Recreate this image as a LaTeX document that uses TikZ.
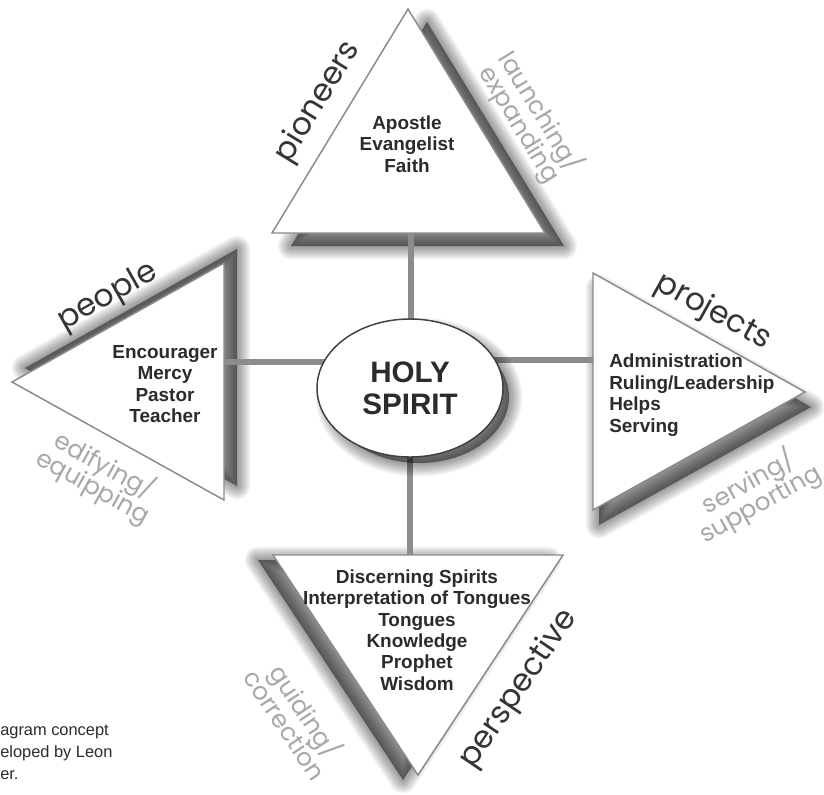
\documentclass[tikz,border=0pt]{standalone}
\usepackage{fontspec}
\setmainfont{Liberation Sans}
\newfontfamily\gothic{Poppins}
\usetikzlibrary{shapes.geometric}
\definecolor{txt}{HTML}{2B2B2B}
\definecolor{lbl}{HTML}{353535}
\definecolor{glbl}{HTML}{A8A8A8}
\definecolor{edge}{HTML}{8A8A8A}
\definecolor{conncol}{HTML}{8C8C8C}
\newcommand\glfont{\gothic\fontsize{18.5}{18.5}\selectfont}
% soft shadow: #1 shift, #2 closed path
\newcommand\softshadow[2]{%
  \foreach \w in {2,4,...,20} {\draw[shift={#1}, draw=black, draw opacity=0.045, line width=\w pt, line join=round] #2;}
  \fill[shift={#1}, black, fill opacity=0.45] #2;
}
\pgfdeclarelayer{bg}
\pgfdeclarelayer{back}
\pgfdeclarelayer{mid}
\pgfsetlayers{bg,back,mid,main}
\tikzset{
  tri/.style={draw=edge, line width=1.1pt, fill=white, line join=miter},
  conn/.style={draw=conncol, line width=4.5pt},
  gift/.style={text=txt, font=\bfseries\fontsize{14.2}{16.1}\selectfont, inner sep=0pt},
  darklbl/.style={text=lbl, font=\gothic\fontsize{23.5}{28}\selectfont, inner sep=0pt},
  graylbl/.style={text=glbl, font=\glfont, inner sep=0pt, align=center},
}
\begin{document}
\begin{tikzpicture}[x=0.75pt,y=-0.75pt]
\useasboundingbox (0,0) rectangle (824,794);
\begin{pgfonlayer}{bg}
\fill[white] (0,0) rectangle (824,794);
\end{pgfonlayer}

% ---- centre ----
\node[draw=black!75, line width=1.1pt, fill=white, ellipse, minimum width=139.5pt, minimum height=103.5pt, inner sep=0pt,
      text=txt, font=\bfseries\fontsize{22.2}{24}\selectfont, align=center] (hs) at (410,388) {HOLY\\SPIRIT};

% ---- triangles with shadows ----
\begin{pgfonlayer}{back}
\softshadow{(19,13)}{(408,9) -- (272,233) -- (545,233) -- cycle}
\softshadow{(13,-14)}{(12,382) -- (224,263) -- (224,500) -- cycle}
\softshadow{(6,15)}{(593,273) -- (805,392) -- (593,510) -- cycle}
\softshadow{(-15,5)}{(273,555) -- (563,555) -- (418,775) -- cycle}
\path[tri] (408,9) coordinate (t1) -- (272,233) coordinate (t2) -- (545,233) coordinate (t3) -- cycle;
\path[tri] (12,382) coordinate (l1) -- (224,263) coordinate (l2) -- (224,500) coordinate (l3) -- cycle;
\path[tri] (593,273) coordinate (r1) -- (805,392) coordinate (r2) -- (593,510) coordinate (r3) -- cycle;
\path[tri] (273,555) coordinate (b1) -- (563,555) coordinate (b2) -- (418,775) coordinate (b3) -- cycle;
\end{pgfonlayer}

% ---- connectors ----
\coordinate (ctop) at (411,233.5);
\coordinate (cleft) at (224.5,362);
\coordinate (cright) at (592.5,360);
\coordinate (cbot) at (410,554.5);
\begin{pgfonlayer}{mid}
\draw[conn] (ctop) -- (ctop |- hs.center);
\draw[conn] (cleft) -- (cleft -| hs.center);
\draw[conn] (cright) -- (cright -| hs.center);
\draw[conn] (cbot) -- (cbot |- hs.center);
\softshadow{(9,9)}{(410,388) ellipse [x radius=90, y radius=66]}
\end{pgfonlayer}

% ---- gift lists ----
\node[gift, align=center] (top) at (407,144) {Apostle\\Evangelist\\Faith};
\node[gift, align=center] (left) at (165,384) {Encourager\\Mercy\\Pastor\\Teacher};
\node[gift, align=left, anchor=west] (right) at (609,395) {Administration\\Ruling/Leadership\\Helps\\Serving};
\node[gift, align=center] (bottom) at (417,630) {Discerning Spirits\\Interpretation of Tongues\\Tongues\\Knowledge\\Prophet\\Wisdom};

% ---- dark labels ----
\node[darklbl, rotate=58.6] (pio) at (318,102) {pioneers};
\node[darklbl, rotate=29.5] (peo) at (108,297) {people};
\node[darklbl, rotate=-29] (pro) at (713,312) {projects};
\node[darklbl, rotate=56] (per) at (519,689) {perspective};

% ---- gray labels ----
\node[graylbl, rotate=-58.6] (lau) at (530,118) {launching/\\[-2pt]expanding};
\node[graylbl, rotate=-29] (edi) at (99,476) {edifying/\\[-2pt]equipping};
\node[graylbl, rotate=29] (ser) at (754,493) {serving/\\[-2pt]supporting};
\node[graylbl, rotate=-56.4] (gui) at (297,717) {guiding/\\[-2pt]correction};

% ---- note ----
\node[text=txt, font=\fontsize{12.3}{16.5}\selectfont, align=left, anchor=north west, inner sep=0pt] (note) at (0,725) {agram concept\\eloped by Leon\\er.};
\end{tikzpicture}
\end{document}
